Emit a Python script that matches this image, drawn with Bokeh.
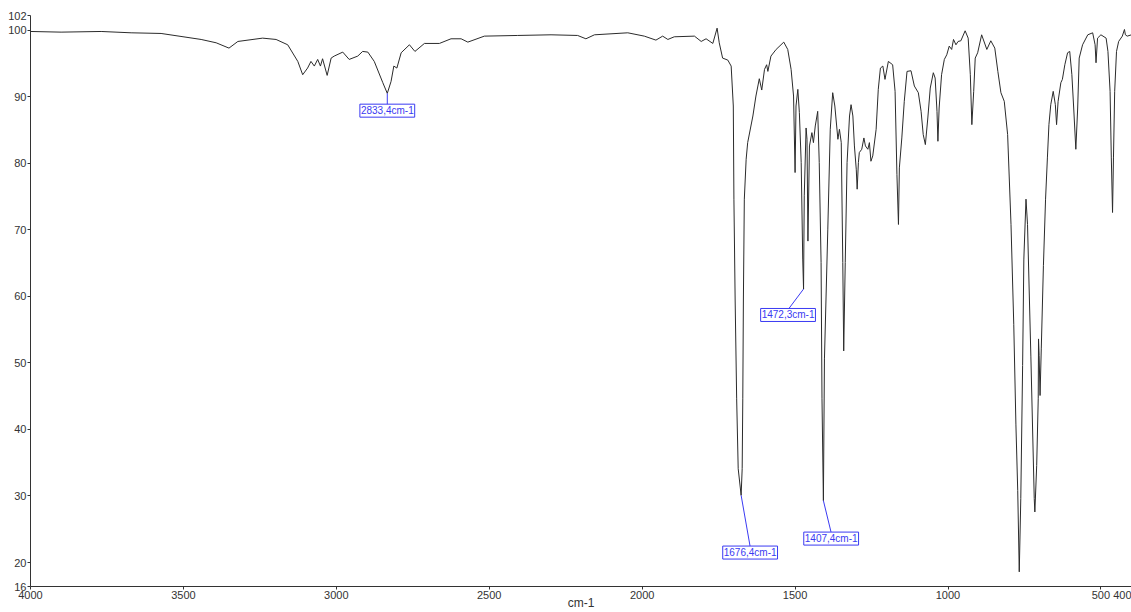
from bokeh.plotting import figure
from bokeh.models import Range1d, FixedTicker, CustomJSTickFormatter, Label
from bokeh.embed import file_html
from bokeh.resources import INLINE

# ---- spectrum data (wavenumber cm-1, transmittance %) ----
wavenumber = [
    4000, 3900, 3769, 3671, 3573, 3442, 3393, 3351, 3322, 3241, 3197, 3159, 3126, 3110, 3094,
    3083, 3072, 3061, 3052, 3045, 3030, 3017, 3007, 2979, 2958, 2930, 2914, 2897, 2876, 2848,
    2833.4, 2821, 2812, 2802, 2788, 2761, 2743, 2712, 2663, 2625, 2592, 2570, 2516, 2407, 2298,
    2211, 2184, 2156, 2047, 1993, 1955, 1933, 1916, 1895, 1829, 1807, 1791, 1769, 1755, 1748,
    1737, 1720, 1709, 1702, 1700, 1696, 1691, 1686, 1676.4, 1673, 1671, 1669, 1666, 1660, 1655,
    1638, 1628, 1617, 1609, 1600, 1593, 1589, 1579, 1562, 1537, 1524, 1513, 1505, 1500, 1497,
    1491, 1486, 1480, 1475, 1472.3, 1470, 1464, 1461, 1458, 1453, 1445, 1440, 1434, 1426, 1421,
    1415, 1412, 1407.4, 1404, 1393, 1385, 1377, 1370, 1360, 1355, 1349, 1344, 1341, 1336, 1330,
    1322, 1317, 1311, 1306, 1300, 1297, 1293, 1290, 1282, 1275, 1270, 1262, 1257, 1252, 1246,
    1235, 1228, 1221, 1213, 1206, 1195, 1181, 1173, 1167, 1162, 1159, 1151, 1143, 1134, 1121,
    1110, 1097, 1088, 1081, 1074, 1066, 1058, 1048, 1042, 1036, 1033, 1029, 1021, 1012, 1004,
    996, 988, 982, 974, 967, 958, 944, 934, 927, 922, 916, 911, 903, 890, 873,
    860, 847, 837, 827, 816, 805, 794, 785, 778, 772, 767, 762, 756, 752, 745,
    740, 729, 718, 716, 710, 705, 704, 702, 699, 695, 688, 681, 675, 670, 664,
    656, 649, 645, 640, 631, 626, 618, 609, 602, 595, 589, 582, 576, 571, 560,
    543, 527, 519, 516, 511, 500, 483, 477, 470, 466, 462, 459, 455, 449, 442,
    430, 423, 420, 414, 400,
]
transmittance = [
    99.8, 99.7, 99.8, 99.6, 99.5, 98.6, 98.1, 97.3, 98.3, 98.8, 98.6, 97.8, 95.3, 93.3, 94.3,
    95.3, 94.6, 95.6, 94.6, 95.7, 93.2, 95.8, 96.1, 96.7, 95.6, 96.1, 96.8, 96.7, 95.3, 92.1,
    90.5, 92.3, 94.6, 94.3, 96.6, 97.8, 96.8, 98.0, 98.0, 98.7, 98.7, 98.2, 99.1, 99.2, 99.3,
    99.2, 98.7, 99.3, 99.6, 99.1, 98.5, 99.1, 98.6, 99.0, 99.1, 98.3, 98.7, 98.0, 100.3, 98.1,
    95.8, 95.5, 94.6, 88.6, 74.6, 59.6, 44.6, 34.1, 30.1, 34.1, 44.6, 59.6, 74.6, 80.6, 83.1,
    87.1, 90.1, 92.7, 91.0, 94.1, 94.8, 93.8, 96.1, 97.1, 98.2, 97.1, 94.1, 90.1, 78.6, 88.6,
    91.1, 87.6, 80.1, 65.6, 61.1, 75.1, 85.3, 83.6, 68.3, 82.6, 84.6, 83.1, 85.6, 87.8, 80.1,
    65.1, 44.6, 29.3, 50.6, 70.1, 85.1, 90.6, 88.6, 83.6, 85.1, 83.1, 65.1, 51.8, 65.1, 80.1,
    87.1, 88.8, 87.1, 82.6, 79.1, 76.1, 80.1, 81.6, 82.1, 83.8, 82.6, 82.1, 83.1, 80.3, 81.1,
    85.1, 91.1, 94.3, 94.6, 92.6, 95.3, 94.8, 90.8, 78.3, 70.8, 79.3, 83.8, 89.3, 93.8, 93.9,
    91.6, 90.6, 87.8, 84.3, 82.8, 86.8, 91.3, 93.6, 92.8, 87.8, 83.3, 88.3, 93.3, 95.6, 96.3,
    97.6, 97.1, 98.6, 97.8, 98.3, 98.4, 99.9, 98.8, 93.3, 85.8, 90.8, 95.8, 96.6, 99.3, 97.1,
    98.4, 97.3, 93.8, 90.6, 89.3, 84.3, 70.8, 55.8, 40.8, 30.8, 18.6, 29.6, 49.6, 65.6, 74.6,
    70.8, 50.9, 29.6, 27.6, 34.6, 44.6, 53.6, 51.1, 45.1, 52.1, 64.6, 74.6, 80.8, 85.8, 88.8,
    90.8, 88.8, 85.8, 89.3, 92.1, 92.6, 94.8, 96.6, 96.8, 93.3, 88.3, 82.1, 88.3, 95.8, 97.8,
    99.3, 99.6, 97.8, 95.1, 98.8, 99.3, 98.8, 96.8, 90.8, 80.8, 72.6, 80.8, 90.8, 96.8, 98.3,
    99.1, 100.1, 99.3, 99.1, 99.3,
]

# ---- peak annotations ----
peak_wn = [2833.4, 1472.3, 1676.4, 1407.4]
peak_t = [90.5, 61.1, 30.1, 29.3]
peak_text = ["2833,4cm-1", "1472,3cm-1", "1676,4cm-1", "1407,4cm-1"]
label_wn = [2833.4, 1523, 1647, 1382]
label_t = [87.9, 57.2, 21.5, 23.6]
leader_end_t = [88.8, 58.0, 22.4, 24.5]

# ---- axes ----
x_start, x_end = 4000, 400
y_start, y_end = 16.4, 102.2
x_ticks = [4000, 3500, 3000, 2500, 2000, 1500, 1000, 500, 400]
y_ticks = [16.4, 20, 30, 40, 50, 60, 70, 80, 90, 100, 102.2]
x_title = "cm-1"

FONT = "Liberation Sans"
AXIS_COLOR = "#333333"
BLUE = "#3a3af2"

p = figure(width=1131, height=612, output_backend="svg", toolbar_location=None,
           x_range=Range1d(x_start, x_end), y_range=Range1d(y_start, y_end),
           min_border_left=30, min_border_right=0, min_border_top=15, min_border_bottom=25)
p.outline_line_color = None
p.background_fill_color = "white"
p.border_fill_color = "white"
p.xgrid.visible = False
p.ygrid.visible = False

p.line(wavenumber, transmittance, line_color="#2b2b2b", line_width=1)

# leader lines
p.segment(x0=peak_wn, y0=peak_t, x1=label_wn, y1=leader_end_t, line_color=BLUE, line_width=1)

for wn, t, txt in zip(label_wn, label_t, peak_text):
    p.add_layout(Label(x=wn, y=t, text=txt, text_align="center", text_baseline="middle",
                       text_font=FONT, text_font_size="10px", text_color=BLUE,
                       background_fill_color="white", border_line_color=BLUE,
                       border_line_width=1, padding=1))

for ax in (p.xaxis[0], p.yaxis[0]):
    ax.axis_line_color = AXIS_COLOR
    ax.major_tick_line_color = AXIS_COLOR
    ax.major_tick_out = 3
    ax.major_tick_in = 0
    ax.minor_tick_line_color = None
    ax.major_label_text_font = FONT
    ax.major_label_text_font_size = "11px"
    ax.major_label_text_color = AXIS_COLOR
    ax.major_label_standoff = 1

p.xaxis.ticker = FixedTicker(ticks=x_ticks)
p.yaxis.ticker = FixedTicker(ticks=y_ticks)
p.yaxis.formatter = CustomJSTickFormatter(code="return Math.floor(tick + 1e-9).toString();")
p.xaxis.formatter = CustomJSTickFormatter(code="return Math.round(tick).toString();")

# axis title below tick labels (overlapping the tick-label band like the reference)
p.xaxis.axis_label = x_title
p.xaxis.axis_label_text_font = FONT
p.xaxis.axis_label_text_font_size = "12px"
p.xaxis.axis_label_text_font_style = "normal"
p.xaxis.axis_label_text_color = AXIS_COLOR
p.xaxis.axis_label_standoff = -6

open("out.html", "w").write(file_html(p, INLINE))
